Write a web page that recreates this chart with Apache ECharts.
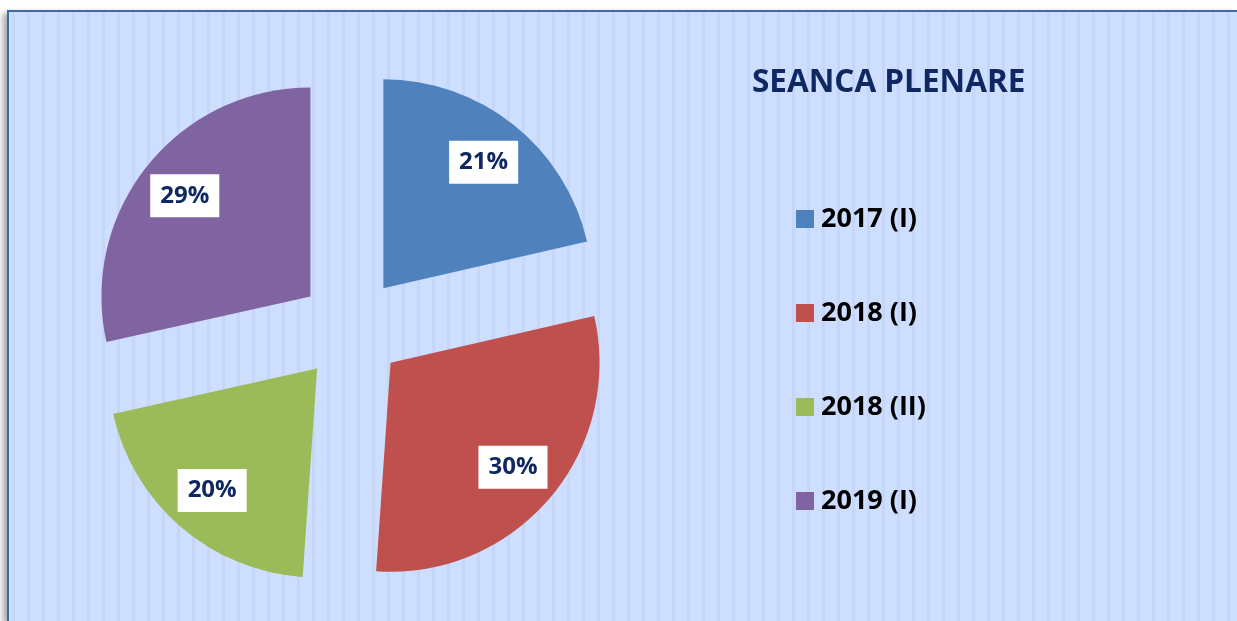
<!DOCTYPE html>
<html>
<head>
<meta charset="utf-8">
<script src="https://cdn.jsdelivr.net/npm/echarts@6/dist/echarts.min.js"></script>
<style>
  html, body { margin: 0; padding: 0; background: #fff; overflow: hidden; width: 1237px; height: 621px; }
  #frame {
    position: absolute; left: 7px; top: 10px; right: 0; bottom: 0;
    border-left: 2px solid #3b6aa8; border-top: 2px solid #3b6aa8;
    box-shadow: -4px 3px 6px rgba(0,0,0,0.35);
    background-color: #cddeff;
    background-image: repeating-linear-gradient(90deg,
      rgba(0,0,0,0) 0px, rgba(0,0,0,0) 3px,
      #c5d6f6 3px, #c5d6f6 6px,
      rgba(0,0,0,0) 6px, rgba(0,0,0,0) 15px);
  }
  #chart { position: absolute; left: 0; top: 0; width: 1237px; height: 621px; }
</style>
</head>
<body>
<div id="frame"></div>
<div id="chart"></div>
<script>
const sessions = ['2017 (I)', '2018 (I)', '2018 (II)', '2019 (I)'];
const shares = [21.4, 29.7, 20.4, 28.5];
const colors = ['#4f81bd', '#c0504d', '#9bbb59', '#8064a2'];

const font = '"Open Sans", "Liberation Sans", sans-serif';
const chart = echarts.init(document.getElementById('chart'));

const pieBase = {
  type: 'pie',
  center: [351, 329],
  startAngle: 90,
  clockwise: true,
  selectedMode: 'multiple',
  selectedOffset: 52,
  animation: false,
  emphasis: { disabled: true },
  labelLine: { show: false }
};

chart.setOption({
  backgroundColor: 'transparent',
  title: {
    text: 'SEANCA PLENARE',
    left: 752, top: 67, padding: 0,
    textStyle: { fontFamily: font, fontWeight: 'bold', fontSize: 31.5, color: '#0f2862' }
  },
  legend: {
    orient: 'vertical',
    left: 796, top: 204, padding: 0,
    itemWidth: 18, itemHeight: 18, itemGap: 64,
    icon: 'rect',
    data: sessions.map((s, i) => ({ name: s, itemStyle: { color: colors[i] } })),
    textStyle: { fontFamily: font, fontWeight: 'bold', fontSize: 27, color: '#000', lineHeight: 30, padding: [0, 0, 0, 2] }
  },
  series: [
    Object.assign({}, pieBase, {
      name: 'slices',
      radius: 209,
      label: { show: false },
      data: sessions.map((s, i) => ({ name: s, value: shares[i], selected: true, itemStyle: { color: colors[i] } }))
    }),
    Object.assign({}, pieBase, {
      name: 'labels',
      radius: [107, 209],
      silent: true,
      label: {
        show: true, position: 'inside',
        formatter: p => Math.round(p.value) + '%',
        backgroundColor: '#fff',
        padding: [9, 10, 9, 10],
        lineHeight: 25,
        fontFamily: font, fontWeight: 'bold', fontSize: 24, color: '#0f2862'
      },
      data: sessions.map((s, i) => ({ name: s, value: shares[i], selected: true, itemStyle: { color: 'rgba(0,0,0,0)' } }))
    })
  ]
});
</script>
</body>
</html>
